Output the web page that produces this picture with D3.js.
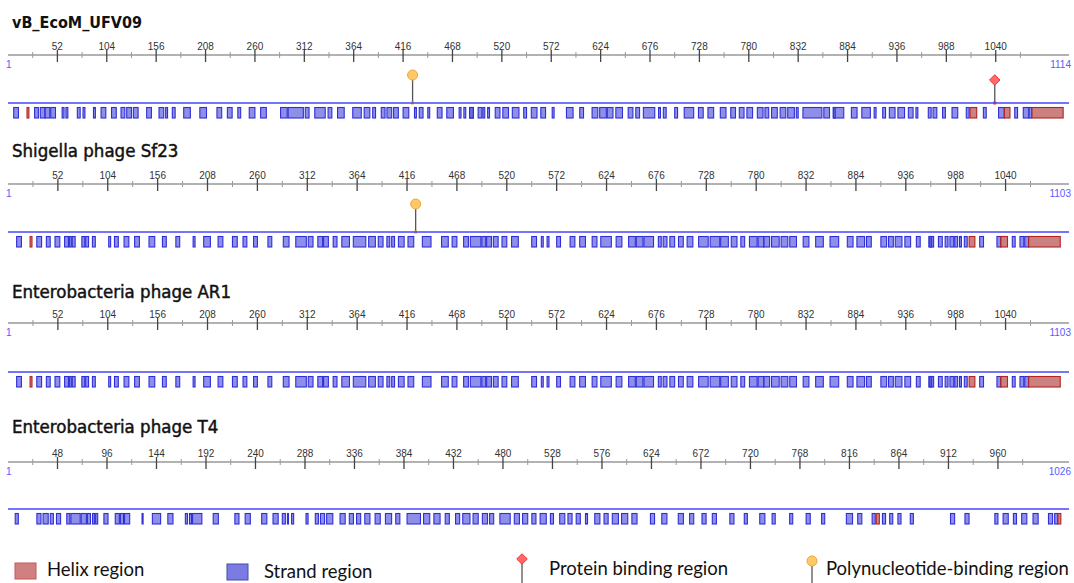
<!DOCTYPE html>
<html>
<head>
<meta charset="utf-8">
<script src="https://cdn.jsdelivr.net/npm/d3@7"></script>
<style>
  body { margin: 0; background: #fff; }
  svg { display: block; }
</style>
</head>
<body>
<div id="chart"></div>
<script>
// secondary structure maps of four phage proteins

const names = ["vB_EcoM_UFV09", "Shigella phage Sf23", "Enterobacteria phage AR1", "Enterobacteria phage T4"];
const lengths = [1114, 1103, 1103, 1026];
const tickSteps = [52, 52, 52, 48];

// strand regions [start, end] in residues
const strandsUFV09 = [[6,11],[28,32],[34,39],[39,44],[45,50],[57,59],[61,63],[73,76],[79,81],[90,92],[98,103],[109,114],[119,123],[125,130],[132,137],[146,151],[159,164],[166,168],[173,176],[185,192],[202,209],[220,225],[231,236],[242,245],[254,260],[266,272],[287,294],[295,311],[313,317],[323,334],[337,341],[347,354],[363,372],
  [375,381],[384,387],[393,397],[399,404],[406,411],[416,422],[428,430],[433,437],[442,444],[452,457],[462,469],[475,477],[480,482],[486,490],[486,490],[495,499],[500,502],[505,507],[513,518],[521,527],[531,538],[543,546],[551,557],[561,566],[573,575],[588,595],[602,606],[615,621],[623,630],[631,637],[640,647],[653,658],[661,665],[669,681],[685,687],[690,693],[702,705],[712,722],[727,732],[737,743],
  [750,756],[761,766],[770,775],[778,784],[789,795],[797,801],[804,810],[813,819],[821,828],[830,832],[837,857],[859,865],[869,880],[869,871],[888,894],[899,908],[912,914],[921,924],[928,934],[937,944],[948,953],[956,958],[969,972],[974,978],[984,987],[994,1000],[1009,1012],[1027,1030],[1043,1049],[1060,1063],[1069,1075],[1075,1078]];
const helicesUFV09 = [[20,22],[1013,1020],[1049,1055],[1078,1111]];
const polyUFV09 = [426];
const proteinUFV09 = [1039];

const strandsSf23 = [[9,14],[30,35],[40,44],[49,54],[59,63],[64,66],[67,70],[77,80],[81,84],[88,91],[105,107],[111,115],[121,126],[132,137],[147,153],[161,165],[175,179],[193,195],[204,211],[219,224],[234,239],[245,249],[256,260],[271,275],[287,293],[300,311],[313,318],[323,328],[329,334],[339,343],[348,356],[360,373],
  [376,383],[386,391],[395,398],[400,403],[407,413],[417,423],[432,441],[452,459],[463,468],[475,480],[482,493],[494,498],[499,504],[506,511],[515,520],[525,532],[546,551],[556,558],[562,564],[572,576],[586,591],[596,602],[609,614],[618,629],[634,640],[647,654],[655,662],[663,673],[678,681],[683,687],[690,695],[699,704],[708,714],[720,730],[732,742],
  [743,751],[754,760],[764,768],[773,781],[782,788],[788,794],[796,804],[806,813],[815,822],[829,835],[842,850],[857,866],[875,881],[885,893],[895,900],[910,916],[918,923],[925,932],[935,941],[947,951],[960,965],[961,963],[970,974],[977,980],[982,986],[987,990],[992,994],[997,1000],[1013,1017],[1031,1035],[1047,1050],[1055,1059],[1060,1064]];
const helicesSf23 = [[23,25],[1002,1008],[1035,1042],[1064,1097]];
const polySf23 = [425];
const proteinSf23 = [];

const strandsAR1 = strandsSf23.slice();
const helicesAR1 = helicesSf23.slice();
const polyAR1 = [];
const proteinAR1 = [];

const strandsT4 = [[7,10],[28,32],[34,39],[41,44],[47,51],[57,60],[61,70],[71,76],[77,80],[82,84],[85,87],[93,97],[104,108],[109,112],[113,118],[130,131],[140,148],[155,160],[172,174],[176,178],[179,188],[199,204],[220,224],[230,235],[246,251],[257,262],[266,269],[271,272],[275,277],[289,291],[298,301],[303,307],[309,315],[322,327],[331,335],[338,342],
  [346,351],[356,361],[366,372],[376,380],[387,400],[403,409],[413,419],[424,428],[434,438],[441,448],[451,456],[460,465],[467,471],[477,487],[491,496],[499,504],[508,512],[516,522],[526,529],[535,540],[543,547],[551,555],[560,562],[569,574],[578,582],[586,592],[595,601],[605,610],[623,627],[634,639],[650,655],[661,665],[673,677],[683,687],
  [700,704],[714,717],[729,734],[741,744],[758,761],[774,778],[789,792],[813,819],[824,828],[838,841],[848,851],[855,858],[863,866],[875,878],[914,918],[928,932],[957,960],[965,970],[975,978],[983,988],[994,999],[1009,1013],[1015,1018]];
const helicesT4 = [[842,845],[1018,1021]];
const polyT4 = [];
const proteinT4 = [];

const panels = [
  { name: names[0], len: lengths[0], step: tickSteps[0], strands: strandsUFV09, helices: helicesUFV09, poly: polyUFV09, protein: proteinUFV09, bold: true },
  { name: names[1], len: lengths[1], step: tickSteps[1], strands: strandsSf23, helices: helicesSf23, poly: polySf23, protein: proteinSf23 },
  { name: names[2], len: lengths[2], step: tickSteps[2], strands: strandsAR1, helices: helicesAR1, poly: polyAR1, protein: proteinAR1 },
  { name: names[3], len: lengths[3], step: tickSteps[3], strands: strandsT4, helices: helicesT4, poly: polyT4, protein: proteinT4 }
];

const W = 1074, H = 583;
const titleY = [28, 157, 298, 433];
const rulerY = [55, 184, 323, 462];
const trackY = [103, 232, 372, 509];

const svg = d3.select("#chart").append("svg")
  .attr("width", W)
  .attr("height", H);

const strandFill = "rgba(95,95,225,0.7)", strandStroke = "#2f2fd8";
const helixFill = "rgba(185,80,80,0.72)", helixStroke = "#b42222";

panels.forEach(function(p, i) {
  let g = svg.append("g");
  let x = d3.scaleLinear().domain([0, p.len]).range([8, 1066]);
  let ry = rulerY[i], ty = trackY[i];

  g.append("text")
    .attr("x", 12)
    .attr("y", titleY[i])
    .style("font-family", "'DejaVu Sans Condensed', 'DejaVu Sans', sans-serif")
    .style("font-size", p.bold ? "16px" : "18.5px")
    .style("font-weight", p.bold ? "bold" : "normal")
    .attr("fill", "#111")
    .attr("stroke", p.bold ? "none" : "#111")
    .attr("stroke-width", 0.45)
    .text(p.name);

  // ruler
  g.append("line")
    .attr("x1", x(0)).attr("x2", x(p.len) + 3)
    .attr("y1", ry).attr("y2", ry)
    .attr("stroke", "#666").attr("stroke-width", 1.2);

  // major ticks stop half a step before the end
  let major = d3.range(p.step, p.len - p.step / 2, p.step);
  let minor = d3.range(p.step / 2, p.len, p.step);

  g.selectAll(".minor").data(minor).enter().append("line")
    .attr("x1", function(d) { return x(d); }).attr("x2", function(d) { return x(d); })
    .attr("y1", ry - 3).attr("y2", ry + 3)
    .attr("stroke", "#999").attr("stroke-width", 1);

  g.selectAll(".major").data(major).enter().append("line")
    .attr("x1", function(d) { return x(d); }).attr("x2", function(d) { return x(d); })
    .attr("y1", ry - 5).attr("y2", ry + 7)
    .attr("stroke", "#444").attr("stroke-width", 1.3);

  g.selectAll(".tlabel").data(major).enter().append("text")
    .attr("x", function(d) { return x(d); })
    .attr("y", ry - 5)
    .attr("text-anchor", "middle")
    .style("font-family", "'Liberation Sans', Arial, sans-serif")
    .style("font-size", "10px")
    .attr("fill", "#333")
    .text(function(d) { return d; });

  g.append("text")
    .attr("x", x(0) - 2).attr("y", ry + 13)
    .style("font-family", "'Liberation Sans', Arial, sans-serif")
    .style("font-size", "10px")
    .attr("fill", "#5a5aff")
    .text("1");

  g.append("text")
    .attr("x", x(p.len) + 5).attr("y", ry + 13)
    .attr("text-anchor", "end")
    .style("font-family", "'Liberation Sans', Arial, sans-serif")
    .style("font-size", "10px")
    .attr("fill", "#5a5aff")
    .text(p.len);

  // binding site pins
  g.selectAll(".pstem").data(p.poly.concat(p.protein)).enter().append("line")
    .attr("x1", function(d) { return x(d); }).attr("x2", function(d) { return x(d); })
    .attr("y1", ty - 24).attr("y2", ty)
    .attr("stroke", "#555").attr("stroke-width", 1.3);

  g.selectAll(".poly").data(p.poly).enter().append("circle")
    .attr("cx", function(d) { return x(d); })
    .attr("cy", ty - 28)
    .attr("r", 5)
    .attr("fill", "#ffc965").attr("stroke", "#f2a23a").attr("stroke-width", 1);

  g.selectAll(".prot").data(p.protein).enter().append("path")
    .attr("d", d3.symbol().type(d3.symbolDiamond2).size(70))
    .attr("transform", function(d) { return "translate(" + x(d) + "," + (ty - 23) + ")"; })
    .attr("fill", "#ff6a6a").attr("stroke", "#ff2a2a").attr("stroke-width", 1);

  g.selectAll(".pdot").data(p.poly).enter().append("rect")
    .attr("x", function(d) { return x(d) - 1.5; }).attr("y", ty - 1.5)
    .attr("width", 3).attr("height", 3).attr("fill", "#f0a030");
  g.selectAll(".rdot").data(p.protein).enter().append("rect")
    .attr("x", function(d) { return x(d) - 1.5; }).attr("y", ty - 1.5)
    .attr("width", 3).attr("height", 3).attr("fill", "#ff3030");

  // track line
  g.append("line")
    .attr("x1", x(0)).attr("x2", x(p.len) + 3)
    .attr("y1", ty).attr("y2", ty)
    .attr("stroke", "#4646ff").attr("stroke-width", 1.3);

  g.selectAll(".strand").data(p.strands).enter().append("rect")
    .attr("x", function(d) { return x(d[0]); })
    .attr("y", ty + 4.5)
    .attr("width", function(d) { return Math.max(1, x(d[1]) - x(d[0])); })
    .attr("height", 10.5)
    .attr("fill", strandFill).attr("stroke", strandStroke).attr("stroke-width", 1.1);

  g.selectAll(".helix").data(p.helices).enter().append("rect")
    .attr("x", function(d) { return x(d[0]); })
    .attr("y", ty + 4.5)
    .attr("width", function(d) { return Math.max(1, x(d[1]) - x(d[0])); })
    .attr("height", 10.5)
    .attr("fill", helixFill).attr("stroke", helixStroke).attr("stroke-width", 1.1);
});

// legend
const legend = svg.append("g")
  .style("font-family", "Lato, 'Open Sans', sans-serif")
  .style("font-size", "18.5px");

legend.append("rect").attr("x", 15).attr("y", 563).attr("width", 21).attr("height", 16)
  .attr("fill", "#d08080").attr("stroke", "#c05858");
legend.append("text").attr("x", 47).attr("y", 576).attr("fill", "#111").text("Helix region");

legend.append("rect").attr("x", 227).attr("y", 564).attr("width", 21).attr("height", 16)
  .attr("fill", "#7b7be3").attr("stroke", "#3f4fa8");
legend.append("text").attr("x", 264).attr("y", 578).attr("fill", "#111").text("Strand region");

legend.append("line").attr("x1", 522).attr("x2", 522).attr("y1", 562).attr("y2", 583)
  .attr("stroke", "#555").attr("stroke-width", 1.3);
legend.append("path").attr("d", d3.symbol().type(d3.symbolDiamond2).size(70))
  .attr("transform", "translate(522,559)")
  .attr("fill", "#ff6a6a").attr("stroke", "#ff2a2a");
legend.append("text").attr("x", 549).attr("y", 575).attr("fill", "#111").text("Protein binding region");

legend.append("line").attr("x1", 812).attr("x2", 812).attr("y1", 566).attr("y2", 583)
  .attr("stroke", "#555").attr("stroke-width", 1.3);
legend.append("circle").attr("cx", 812).attr("cy", 561).attr("r", 5)
  .attr("fill", "#ffc965").attr("stroke", "#f2a23a");
legend.append("text").attr("x", 826).attr("y", 575).attr("fill", "#111").text("Polynucleotide-binding region");
</script>
</body>
</html>
